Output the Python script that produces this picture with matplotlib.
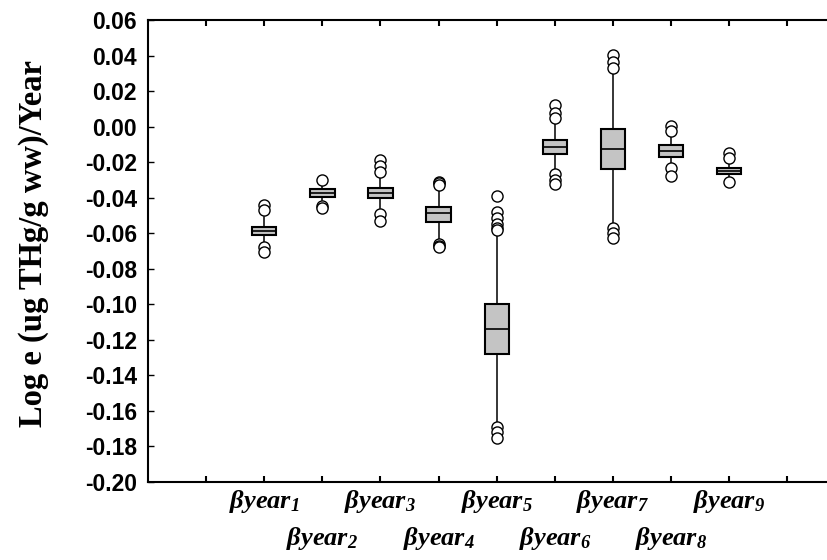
import matplotlib.pyplot as plt

plt.rcParams['mathtext.fontset'] = 'custom'
plt.rcParams['mathtext.rm'] = 'Liberation Serif:bold:italic'
plt.rcParams['mathtext.it'] = 'Liberation Serif:bold:italic'

# box statistics per year coefficient
labels = ['1', '2', '3', '4', '5', '6', '7', '8', '9']
q1 = [-0.061, -0.0398, -0.0403, -0.0535, -0.128, -0.0154, -0.0238, -0.0169, -0.0267]
med = [-0.0587, -0.0375, -0.0375, -0.0488, -0.114, -0.0113, -0.0126, -0.0135, -0.025]
q3 = [-0.0563, -0.0353, -0.0347, -0.0451, -0.100, -0.0075, -0.0015, -0.0103, -0.0235]
whislo = [-0.0655, -0.0413, -0.0458, -0.0638, -0.167, -0.0244, -0.0544, -0.021, -0.0282]
whishi = [-0.051, -0.0328, -0.0282, -0.0338, -0.0599, 0.0018, 0.030, -0.0047, -0.0207]
fliers = [
    [-0.044, -0.047, -0.068, -0.0705],
    [-0.030, -0.0445, -0.046],
    [-0.0188, -0.0223, -0.0255, -0.049, -0.053],
    [-0.031, -0.032, -0.033, -0.066, -0.067, -0.068],
    [-0.039, -0.048, -0.0515, -0.055, -0.057, -0.058, -0.169, -0.172, -0.175],
    [0.0122, 0.0077, 0.0048, -0.0267, -0.030, -0.0323],
    [0.0403, 0.0364, 0.033, -0.057, -0.060, -0.0627],
    [0.0003, -0.0025, -0.0233, -0.0278],
    [-0.0148, -0.0177, -0.0312],
]

stats = []
for i in range(len(labels)):
    stats.append(dict(q1=q1[i], med=med[i], q3=q3[i], whislo=whislo[i],
                      whishi=whishi[i], fliers=fliers[i]))
pos = [i + 2 for i in range(len(labels))]

fig = plt.figure(figsize=(8.28, 5.6), dpi=100)
ax = fig.add_axes([148 / 828, 78 / 560, 680 / 828, 462 / 560])

ax.bxp(stats, positions=pos, widths=0.42, patch_artist=True, showcaps=False,
       boxprops=dict(facecolor='#c4c4c4', edgecolor='black', linewidth=1.5),
       medianprops=dict(color='black', linewidth=1.2),
       whiskerprops=dict(color='black', linewidth=1.1),
       flierprops=dict(marker='o', markerfacecolor='white', markeredgecolor='black',
                       markersize=8, markeredgewidth=1.0))

ax.set_xlim(0, 11.7)
ax.set_ylim(-0.20, 0.06)
ax.set_yticks([round(-0.20 + 0.02 * k, 2) for k in range(14)])
ax.set_yticklabels(['%.2f' % v for v in ax.get_yticks()],
                   fontfamily='Liberation Sans', fontweight='bold', fontsize=16.5)

# odd coefficients on the upper row, even ones on the lower row
ax.set_xticks(pos[0::2])
ax.set_xticklabels([r'$\mathrm{\beta year}_{\mathrm{%s}}$' % s for s in labels[0::2]],
                   fontsize=19)
minor = [1] + pos[1::2] + [11]
ax.set_xticks(minor, minor=True)
ax.set_xticklabels([''] + [r'$\mathrm{\beta year}_{\mathrm{%s}}$' % s for s in labels[1::2]] + [''],
                   minor=True, fontsize=19)

ax.tick_params(axis='x', which='both', direction='in', length=4, width=1.5, top=True)
ax.tick_params(axis='x', which='major', pad=4)
ax.tick_params(axis='x', which='minor', pad=31)
ax.tick_params(axis='y', direction='in', length=4, width=1.0, pad=8)
ax.spines['right'].set_visible(False)
for s in ['left', 'top', 'bottom']:
    ax.spines[s].set_linewidth(1.5)

fig.text(0.04, 0.565, 'Log e (ug THg/g ww)/Year', rotation=90, ha='center', va='center',
         fontfamily='Liberation Serif', fontweight='bold', fontsize=23.5)

fig.savefig('out.png', dpi=100)
